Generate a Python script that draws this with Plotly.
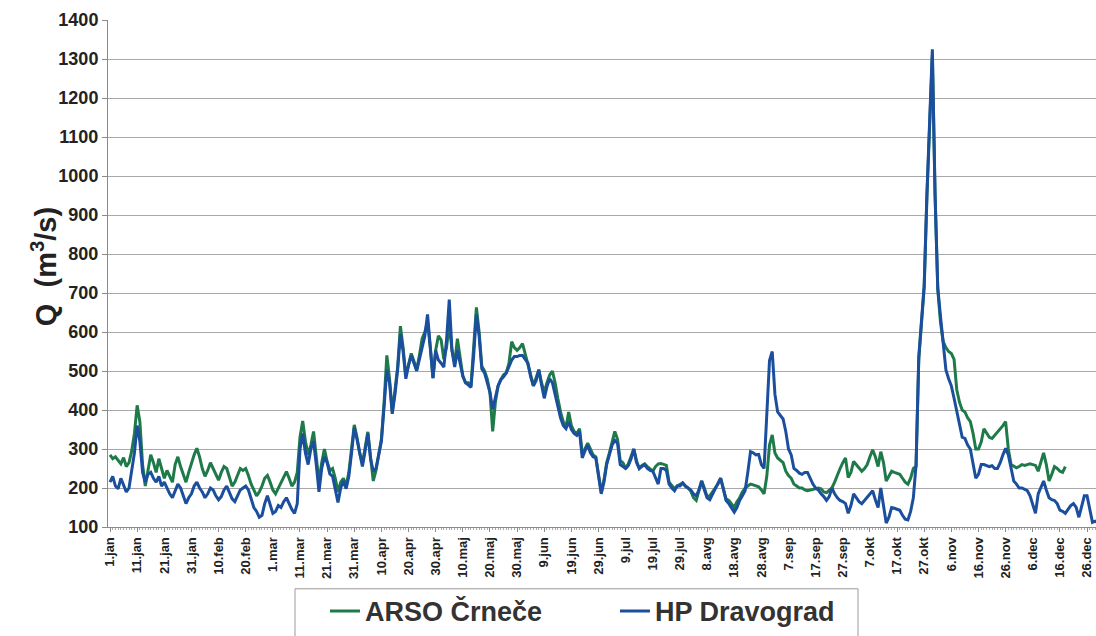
import plotly.graph_objects as go

# day index 0 = 1.jan (leap year, 366 days)
tick_days = [0, 10, 20, 30, 40, 50, 60, 70, 80, 90, 100, 110, 120, 130, 140, 150, 160, 170,
             180, 190, 200, 210, 220, 230, 240, 250, 260, 270, 280, 290, 300, 310, 320, 330,
             340, 350, 360]
tick_labels = ["1.jan", "11.jan", "21.jan", "31.jan", "10.feb", "20.feb", "1.mar", "11.mar",
               "21.mar", "31.mar", "10.apr", "20.apr", "30.apr", "10.maj", "20.maj", "30.maj",
               "9.jun", "19.jun", "29.jun", "9.jul", "19.jul", "29.jul", "8.avg", "18.avg",
               "28.avg", "7.sep", "17.sep", "27.sep", "7.okt", "17.okt", "27.okt", "6.nov",
               "16.nov", "26.nov", "6.dec", "16.dec", "26.dec"]

# ARSO Črneče daily discharge (m3/s), 1.jan .. 18.dec
arso_crnece = [
    285, 275, 280, 270, 262, 278, 255, 265, 295, 340,
    412, 370, 260, 205, 250, 285, 265, 240, 275, 250,
    225, 245, 230, 215, 260, 280, 255, 235, 215, 240,
    265, 285, 302, 280, 250, 230, 245, 265, 250, 235,
    220, 240, 255, 250, 225, 205, 215, 235, 250, 245,
    250, 232, 210, 195, 180, 190, 205, 225, 232, 215,
    195, 185, 200, 215, 230, 242, 225, 205, 215, 240,
    330, 372, 320, 285, 310, 345, 280, 215, 265, 300,
    268, 245, 250, 225, 190, 215, 225, 205, 240, 300,
    362, 330, 290, 263, 300, 344, 280, 218, 245, 290,
    326, 420, 540, 480, 395, 450, 512, 615, 560, 487,
    520, 545, 525, 503, 540, 583, 600, 625, 560, 482,
    553, 590, 580, 530, 560, 620, 553, 520, 583, 540,
    487, 470, 470, 462, 560, 663, 600, 512, 500, 480,
    445, 345, 420, 462, 478, 490, 495, 520, 575, 560,
    553, 560, 570, 545, 520, 490, 462, 480, 503, 470,
    445, 470, 490, 500, 470, 430, 395, 370, 355, 395,
    360, 345, 340, 352, 290, 300, 315, 300, 285, 280,
    240, 190, 220, 265, 290, 320, 345, 325, 270, 265,
    250, 262, 280, 300, 270, 250, 258, 262, 255, 248,
    243, 255, 262, 263, 260, 258, 215, 205, 198, 205,
    210, 213, 205, 200, 192, 175, 168, 190, 218, 200,
    178, 180, 190, 200, 210, 225, 200, 172, 168, 160,
    150, 165, 175, 190, 200, 205, 210, 208, 205, 203,
    195, 185, 230, 310, 336, 290, 277, 272, 265, 243,
    232, 225, 210, 205, 200, 200, 195, 193, 195, 198,
    200, 200, 198, 190, 188, 195, 200, 215, 235, 250,
    265, 277, 227, 240, 268, 260, 250, 243, 250, 260,
    280, 298, 280, 255, 293, 265, 218, 230, 243, 240,
    238, 235, 225, 215, 210, 225, 250, 255, 530, 635,
    715, 945, 1140, 1310, 950, 710, 625, 575, 560, 550,
    545, 530, 452, 420, 400, 395, 380, 370, 340, 300,
    300, 318, 352, 340, 330, 327, 335, 343, 350, 360,
    370, 300, 260, 255, 252, 255, 260, 258, 260, 262,
    260, 258, 243, 270, 290, 260, 218, 235, 255, 250,
    243, 240, 255,
]

# HP Dravograd daily discharge (m3/s), 1.jan .. 31.dec
hp_dravograd = [
    215, 230, 205, 198, 225, 205, 190, 200, 245, 290,
    360, 320, 240, 215, 235, 240, 225, 215, 230, 205,
    215, 200, 185, 175, 195, 210, 200, 180, 160, 175,
    185, 205, 215, 200, 190, 175, 185, 200, 195, 180,
    170, 178, 195, 205, 190, 172, 165, 178, 195, 200,
    205, 195, 170, 150, 140, 125, 130, 160, 180, 160,
    135, 140, 155, 150, 165, 175, 160, 145, 135, 160,
    300, 340, 290, 260, 300, 320, 260, 190, 250, 280,
    265, 236, 230, 200, 163, 200, 218, 198, 230, 290,
    355, 325, 285, 255, 295, 340, 275, 243, 250, 285,
    320, 410, 503, 470, 390, 440, 505, 595, 550, 480,
    515, 540, 520, 500, 530, 563, 590, 645, 555, 482,
    553, 528, 520, 510, 580, 683, 553, 510, 553, 520,
    487, 470, 465, 458, 540, 645, 590, 505, 495, 470,
    445, 402, 430, 462, 478, 485, 495, 510, 528, 537,
    537, 540, 540, 530, 520, 485, 462, 475, 503, 465,
    430, 460, 480, 470, 440, 410, 380, 360, 352, 370,
    350, 340, 335, 345, 277, 295, 310, 290, 280, 277,
    230, 185, 215, 260, 285, 310, 322, 315, 260, 255,
    250, 258, 275, 300, 265, 250, 255, 260, 250, 245,
    243, 225, 210, 250, 250, 245, 210, 200, 193, 205,
    205, 213, 205, 200, 195, 185, 180, 195, 218, 195,
    175, 170, 185, 200, 212, 225, 195, 168, 160, 150,
    138, 150, 168, 180, 193, 240, 293, 290, 285, 286,
    260, 250, 400, 527, 550, 440, 395, 385, 377, 345,
    300, 285, 250, 245, 238, 235, 240, 240, 225, 210,
    200, 195, 185, 178, 168, 178, 200, 185, 175, 168,
    165, 160, 135, 155, 185, 175, 165, 160, 168, 175,
    185, 193, 170, 150, 200, 150, 110, 125, 150, 148,
    145, 143, 130, 120, 118, 140, 175, 260, 537, 640,
    720, 955, 1150, 1325, 955, 713, 640, 570, 503, 480,
    462, 430, 395, 360, 330, 327, 310, 300, 260, 225,
    235, 260, 260, 258, 255, 257, 250, 250, 265, 285,
    302, 285, 250, 218, 210, 200, 200, 197, 193, 180,
    160, 135, 185, 200, 218, 195, 175, 170, 168, 160,
    143, 140, 135, 145, 155, 160, 150, 125, 150, 180,
    180, 150, 112, 115, 110, 108,
]

days_hp = list(range(len(hp_dravograd)))
days_arso = list(range(len(arso_crnece)))

GREEN = "#1f7a4a"
BLUE = "#1b4f9e"
FONT = "Liberation Sans, Arial, sans-serif"

fig = go.Figure()
fig.add_trace(go.Scatter(x=days_arso, y=arso_crnece, mode="lines", name="ARSO Črneče",
                         line=dict(color=GREEN, width=3)))
fig.add_trace(go.Scatter(x=days_hp, y=hp_dravograd, mode="lines", name="HP Dravograd",
                         line=dict(color=BLUE, width=3)))

fig.update_layout(
    width=1096, height=636,
    margin=dict(l=108, r=0, t=20, b=99),
    paper_bgcolor="white", plot_bgcolor="white",
    font=dict(family=FONT, color="#222"),
    showlegend=True,
    legend=dict(orientation="h", x=0.2196, xanchor="left", y=-0.118, yanchor="top",
                font=dict(size=27, family=FONT, color="#333", weight="bold"),
                borderwidth=0, bgcolor="rgba(0,0,0,0)",
                entrywidth=245, itemwidth=30, traceorder="normal"),
    shapes=[dict(type="rect", xref="paper", yref="paper",
                 x0=(295 - 108) / 988, x1=(858 - 108) / 988,
                 y0=-0.22, y1=(537 - 600) / 517,
                 line=dict(color="#9a9a9a", width=1), fillcolor="rgba(0,0,0,0)",
                 layer="below")],
    annotations=[dict(text="Q  (m<sup>3</sup>/s)", xref="paper", yref="paper",
                      x=(44 - 108) / 988, y=(537 - 272) / 517, xanchor="center", yanchor="middle",
                      textangle=-90, showarrow=False,
                      font=dict(size=29, family=FONT, color="#222", weight="bold"))],
)
fig.update_xaxes(
    range=[-0.74, 363.3], tickmode="array", tickvals=tick_days, ticktext=tick_labels,
    tickangle=-90, tickfont=dict(size=13, family=FONT, color="#222", weight="bold"),
    showgrid=False, zeroline=False, showline=True, linecolor="#8a8a8a", linewidth=1,
    ticks="outside", ticklen=4, tickcolor="#8a8a8a",
    minor=dict(dtick=1, tick0=0, ticks="outside", ticklen=2, tickcolor="#aaaaaa", showgrid=False),
)
fig.update_yaxes(
    range=[100, 1400], dtick=100, tick0=100,
    tickfont=dict(size=18, family=FONT, color="#222", weight="bold"),
    showgrid=True, gridcolor="#a8a8a8", gridwidth=1, zeroline=False,
    showline=True, linecolor="#8a8a8a", linewidth=1,
    ticks="outside", ticklen=5, tickcolor="#8a8a8a",
)

fig.write_html("out.html", config={"displayModeBar": False},
               post_script="document.body.style.margin='0px';document.body.style.overflow='hidden';")
